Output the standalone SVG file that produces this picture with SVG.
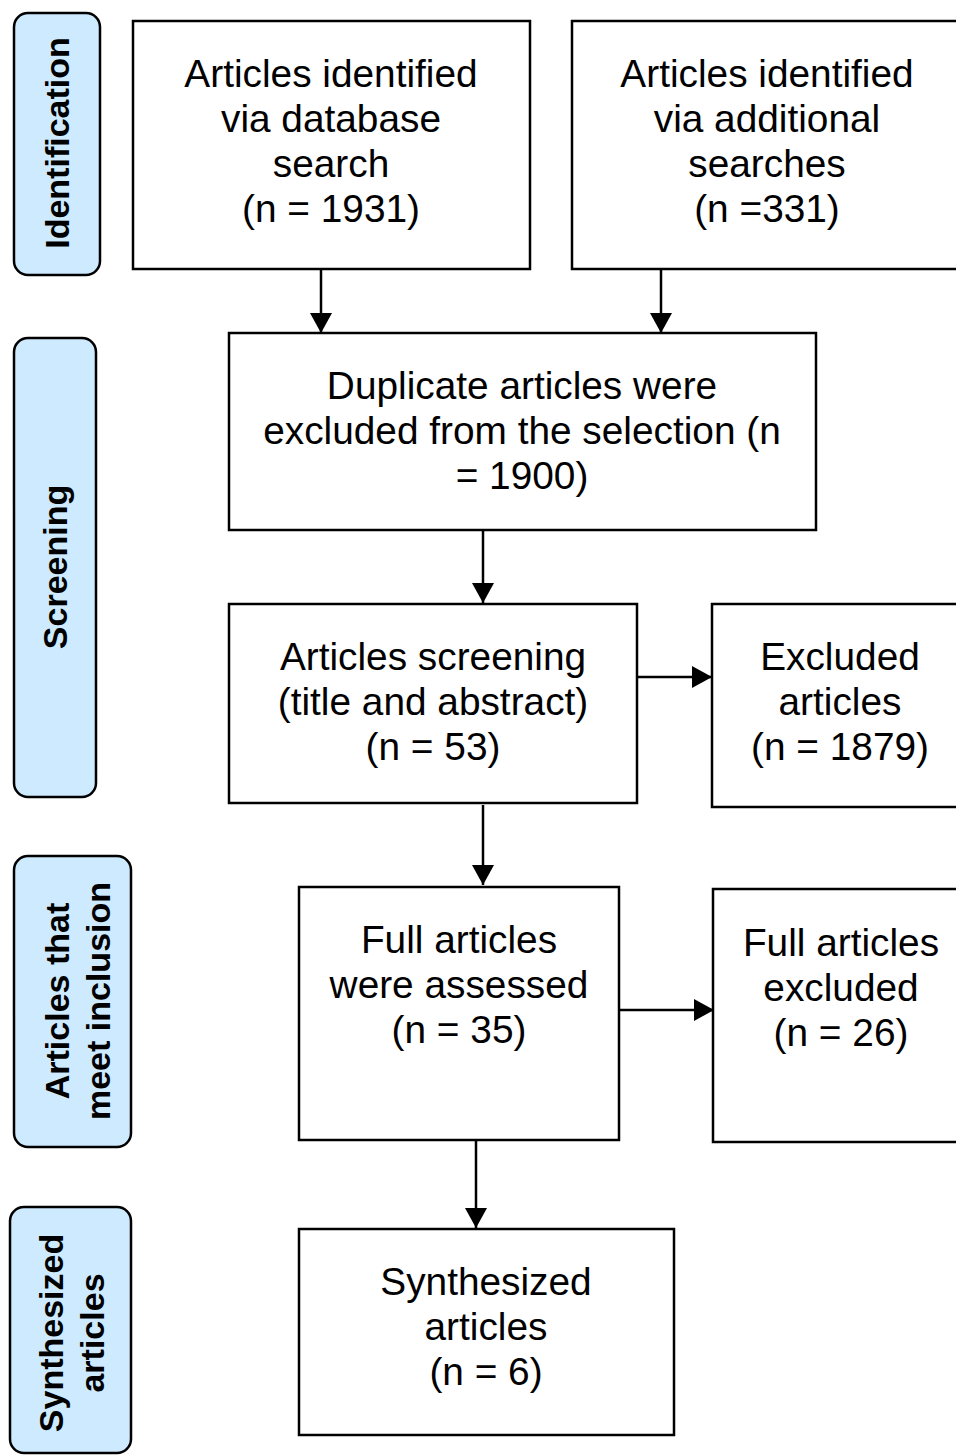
<svg xmlns="http://www.w3.org/2000/svg" width="956" height="1455" viewBox="0 0 956 1455">
<defs>
<marker id="ah" markerWidth="22" markerHeight="22" viewBox="0 0 22 22" refX="20" refY="11" orient="auto" markerUnits="userSpaceOnUse">
<path d="M0,0 L20,11 L0,22 Z" fill="#000"/>
</marker>
<style>
.box{fill:#fff;stroke:#000;stroke-width:2.5}
.lab{fill:#cdeaff;stroke:#000;stroke-width:2.5}
.t{font-family:"Liberation Sans",Arial,sans-serif;font-size:38.8px;fill:#000;text-anchor:middle}
.lt{font-family:"Liberation Sans",Arial,sans-serif;font-size:34px;font-weight:bold;fill:#000;text-anchor:middle}
.c{stroke:#000;stroke-width:2.5;fill:none;marker-end:url(#ah)}
</style>
</defs>
<rect width="956" height="1455" fill="#fff"/>
<g id="label-identification">
<rect class="lab" x="14" y="13" width="86" height="262" rx="14"/>
<text class="lt" transform="translate(57,143) rotate(-90)" y="12">Identification</text>
</g>
<g id="label-screening">
<rect class="lab" x="14" y="338" width="82" height="459" rx="14"/>
<text class="lt" transform="translate(55,567) rotate(-90)" y="12">Screening</text>
</g>
<g id="label-inclusion">
<rect class="lab" x="14" y="856" width="117" height="291" rx="14"/>
<text class="lt" transform="translate(72,1001) rotate(-90)"><tspan x="0" y="-3">Articles that</tspan><tspan x="0" y="38">meet inclusion</tspan></text>
</g>
<g id="label-synthesized">
<rect class="lab" x="10" y="1207" width="121" height="246" rx="14"/>
<text class="lt" transform="translate(66,1333) rotate(-90)"><tspan x="0" y="-3">Synthesized</tspan><tspan x="0" y="38">articles</tspan></text>
</g>
<g id="box-database">
<rect class="box" x="133" y="21" width="397" height="248"/>
<text class="t"><tspan x="331" y="87">Articles identified</tspan><tspan x="331" y="132">via database</tspan><tspan x="331" y="177">search</tspan><tspan x="331" y="222">(n = 1931)</tspan></text>
</g>
<g id="box-additional">
<rect class="box" x="572" y="21" width="400" height="248"/>
<text class="t"><tspan x="767" y="87">Articles identified</tspan><tspan x="767" y="132">via additional</tspan><tspan x="767" y="177">searches</tspan><tspan x="767" y="222">(n =331)</tspan></text>
</g>
<g id="box-duplicates">
<rect class="box" x="229" y="333" width="587" height="197"/>
<text class="t"><tspan x="522" y="399">Duplicate articles were</tspan><tspan x="522" y="444">excluded from the selection (n</tspan><tspan x="522" y="489">= 1900)</tspan></text>
</g>
<g id="box-screening">
<rect class="box" x="229" y="604" width="408" height="199"/>
<text class="t"><tspan x="433" y="670">Articles screening</tspan><tspan x="433" y="715">(title and abstract)</tspan><tspan x="433" y="760">(n = 53)</tspan></text>
</g>
<g id="box-excluded">
<rect class="box" x="712" y="604" width="260" height="203"/>
<text class="t"><tspan x="840" y="670">Excluded</tspan><tspan x="840" y="715">articles</tspan><tspan x="840" y="760">(n = 1879)</tspan></text>
</g>
<g id="box-full">
<rect class="box" x="299" y="887" width="320" height="253"/>
<text class="t"><tspan x="459" y="953">Full articles</tspan><tspan x="459" y="998">were assessed</tspan><tspan x="459" y="1043">(n = 35)</tspan></text>
</g>
<g id="box-full-excluded">
<rect class="box" x="713" y="889" width="260" height="253"/>
<text class="t"><tspan x="841" y="956">Full articles</tspan><tspan x="841" y="1001">excluded</tspan><tspan x="841" y="1046">(n = 26)</tspan></text>
</g>
<g id="box-synthesized">
<rect class="box" x="299" y="1229" width="375" height="206"/>
<text class="t"><tspan x="486" y="1295">Synthesized</tspan><tspan x="486" y="1340">articles</tspan><tspan x="486" y="1385">(n = 6)</tspan></text>
</g>
<g id="connectors">
<line class="c" x1="321" y1="269" x2="321" y2="333"/>
<line class="c" x1="661" y1="269" x2="661" y2="333"/>
<line class="c" x1="483" y1="530" x2="483" y2="603"/>
<line class="c" x1="637" y1="677" x2="712" y2="677"/>
<line class="c" x1="483" y1="805" x2="483" y2="885"/>
<line class="c" x1="619" y1="1010" x2="714" y2="1010"/>
<line class="c" x1="476" y1="1140" x2="476" y2="1228"/>
</g>
</svg>
